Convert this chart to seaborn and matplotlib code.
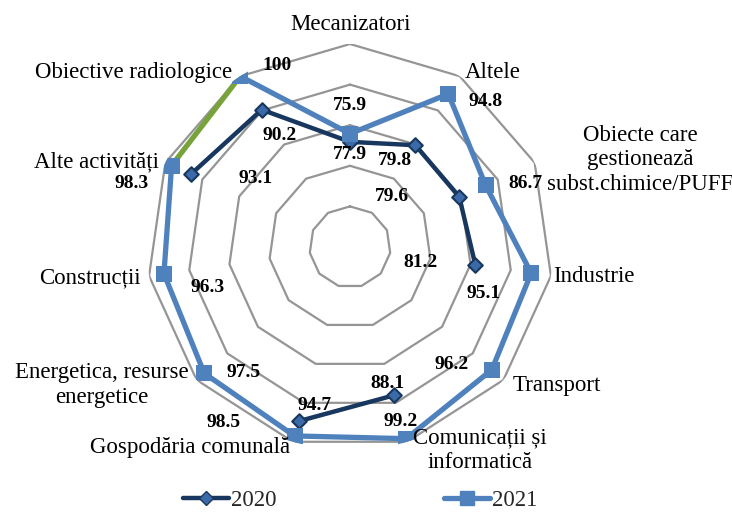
import numpy as np
import pandas as pd
import matplotlib
matplotlib.use("Agg")
import matplotlib.pyplot as plt
from matplotlib.lines import Line2D
import seaborn as sns

# %%
categories = [
    "Mecanizatori",
    "Altele",
    "Obiecte care\ngestionează\nsubst.chimice/PUFF",
    "Industrie",
    "Transport",
    "Comunicații și\ninformatică",
    "Gospodăria comunală",
    "Energetica, resurse\nenergetice",
    "Construcții",
    "Alte activități",
    "Obiective radiologice",
]
values_2020 = [75.9, 79.8, 79.6, 81.2, np.nan, 88.1, 94.7, np.nan, np.nan, 93.1, 90.2]
values_2021 = [77.9, 94.8, 86.7, 95.1, 96.2, 99.2, 98.5, 97.5, 96.3, 98.3, 100.0]
grid_levels = [60, 70, 80, 90, 100]

# label offsets in image pixels (dx right, dy down) relative to the marker
offsets_2020 = [(0, -36), (-20, 15), (-67, -1), (-55, -3), None, (-6, -12),
                (16, -16), None, None, (65, 4), (18, 26)]
offsets_2021 = [(0, 21), (37, 8), (40, -2), (-48, 20), (-40, -5), (-6, -17),
                (-71, -13), (39, -1), (44, 14), (-40, 18), (37, -11)]

# category label centres in image pixels
cat_pos = [(350, 24), (493, 72), (640, 160), (594, 277), (557, 386), (480, 450),
           (190, 447), (102, 385), (90, 278), (96, 162), (134, 72)]

c2020 = "#17375E"
c2020_face = "#3C6AA8"
c2021 = "#4F81BD"
cgreen = "#77A33A"

W, H = 732, 521
n = len(categories)
theta = np.arange(n) * 2 * np.pi / n

sns.set_theme(style="white")
plt.rcParams["font.family"] = ["Liberation Serif", "DejaVu Serif"]

fig = plt.figure(figsize=(W / 100, H / 100), dpi=100)
cx, cy, R = 350, 247, 203
ax = fig.add_axes([(cx - R) / W, (H - cy - R) / H, 2 * R / W, 2 * R / H], polar=True)
ax.set_theta_zero_location("N")
ax.set_theta_direction(-1)
ax.grid(False)
ax.spines["polar"].set_visible(False)
ax.set_xticks([])
ax.set_yticks([])
ax.set_facecolor("none")

theta_closed = np.append(theta, 2 * np.pi)
for lv in grid_levels:
    ax.plot(theta_closed, [lv] * (n + 1), color="#959595", lw=1.6, zorder=1)


def segments(vals):
    # split the closed loop into runs of valid values
    closed = list(vals) + [vals[0]]
    rows, seg = [], 0
    for i, v in enumerate(closed):
        if np.isnan(v):
            seg += 1
            continue
        rows.append({"theta": theta_closed[i], "value": v, "seg": seg})
    return pd.DataFrame(rows)


df20 = segments(values_2020)
sns.lineplot(data=df20, x="theta", y="value", units="seg", estimator=None,
             sort=False, color=c2020, lw=3.2, ax=ax, zorder=3)
df21 = pd.DataFrame({"theta": theta_closed, "value": values_2021 + [values_2021[0]]})
df21["seg"] = 0
df21.loc[10:, "seg"] = 2
df21_green = df21.iloc[9:11].assign(seg=1)
df21_main = pd.concat([df21.iloc[:10], df21.iloc[10:]])
sns.lineplot(data=df21_main, x="theta", y="value", units="seg", estimator=None,
             sort=False, color=c2021, lw=3.8, ax=ax, zorder=4)
sns.lineplot(data=df21_green, x="theta", y="value", estimator=None,
             sort=False, color=cgreen, lw=3.8, ax=ax, zorder=4)

m20 = pd.DataFrame({"theta": theta, "value": values_2020}).dropna()
ax.scatter(m20["theta"], m20["value"], marker="D", s=55, color=c2020_face,
           edgecolor=c2020, linewidth=1.5, zorder=5)
ax.scatter(theta, values_2021, marker="s", s=118, color=c2021,
           edgecolor=c2021, linewidth=0, zorder=6)
ax.set_ylim(50, 100)
ax.set_xlabel("")
ax.set_ylabel("")
if ax.get_legend():
    ax.get_legend().remove()

for vals, offs in ((values_2020, offsets_2020), (values_2021, offsets_2021)):
    for t, v, off in zip(theta, vals, offs):
        if off is None or np.isnan(v):
            continue
        ax.annotate(f"{v:g}", (t, v), xytext=(off[0], -off[1]),
                    textcoords="offset pixels", ha="center", va="center",
                    fontsize=14, fontweight="bold", color="black", zorder=7)

for label, (px, py) in zip(categories, cat_pos):
    fig.text(px / W, 1 - py / H, label, ha="center", va="center",
             fontsize=16.5, color="black", linespacing=1.2)

handles = [
    Line2D([], [], color=c2020, lw=3.2, marker="D", markersize=7.5,
           markerfacecolor=c2020_face, markeredgecolor=c2020),
    Line2D([], [], color=c2021, lw=3.8, marker="s", markersize=10,
           markerfacecolor=c2021, markeredgecolor=c2021),
]
fig.legend(handles, ["2020", "2021"], loc="center", bbox_to_anchor=(360 / W, 1 - 500 / H),
           ncol=2, frameon=False, fontsize=16.5, handlelength=2.0,
           handletextpad=0.1, columnspacing=7.3)

fig.savefig("out.png", dpi=100)
